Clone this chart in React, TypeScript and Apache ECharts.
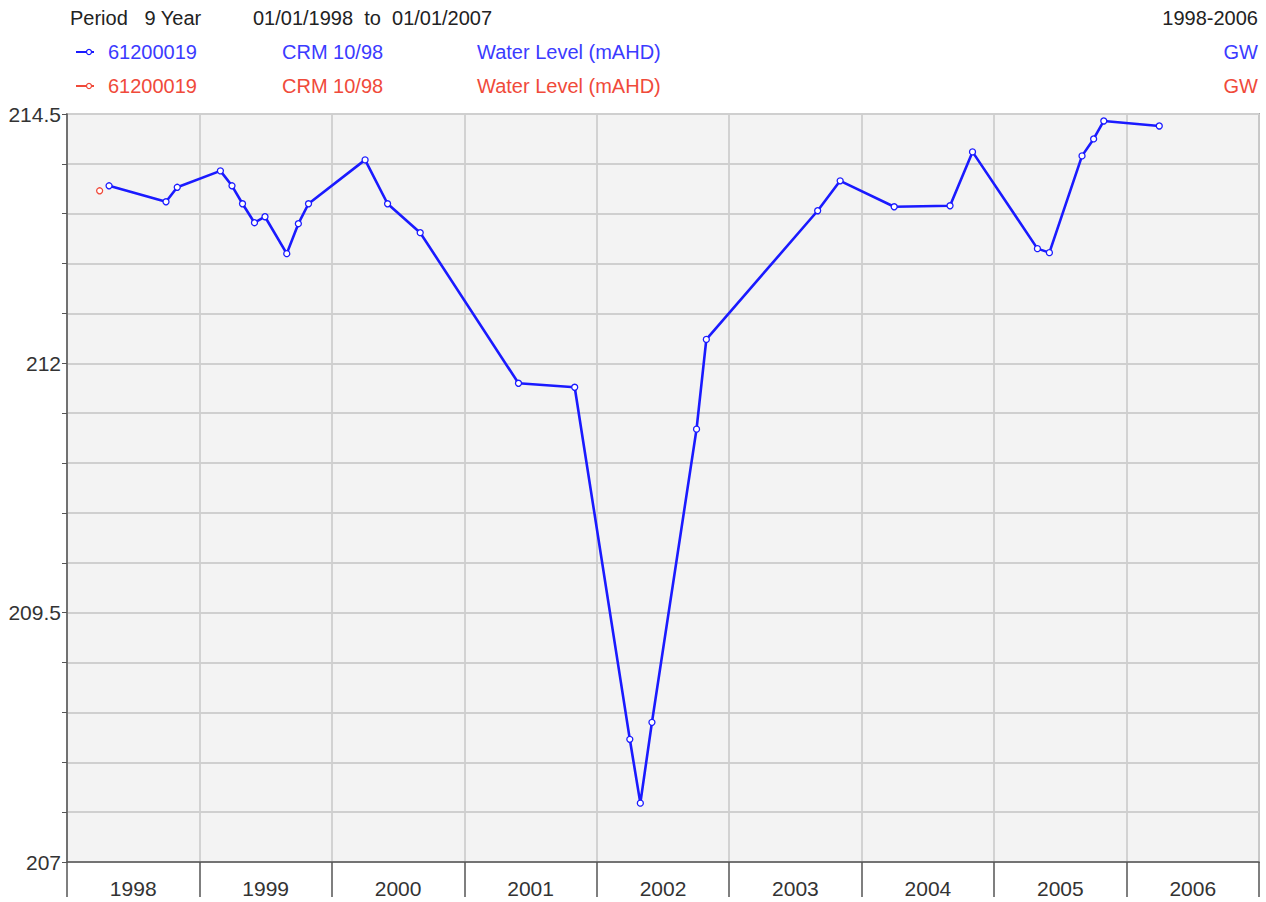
import React, { useEffect, useRef } from "react";
import * as echarts from "echarts";

const years = ["1998", "1999", "2000", "2001", "2002", "2003", "2004", "2005", "2006"];

const blueDates = [
  "1998-04-27", "1998-10-01", "1998-11-01", "1999-02-28", "1999-04-01", "1999-04-30",
  "1999-06-02", "1999-07-01", "1999-08-30", "1999-10-01", "1999-10-29", "2000-04-02",
  "2000-06-03", "2000-09-01", "2001-05-30", "2001-11-01", "2002-04-02", "2002-05-01",
  "2002-06-02", "2002-10-03", "2002-10-30", "2003-09-02", "2003-11-03", "2004-03-31",
  "2004-09-01", "2004-11-02", "2005-04-30", "2005-06-02", "2005-08-31", "2005-10-02",
  "2005-10-30", "2006-04-01",
];
const blueValues = [
  213.78, 213.62, 213.765, 213.93, 213.78, 213.6,
  213.41, 213.47, 213.1, 213.4, 213.6, 214.04,
  213.6, 213.31, 211.8, 211.76, 208.23, 207.59,
  208.4, 211.34, 212.24, 213.53, 213.83, 213.57,
  213.58, 214.12, 213.15, 213.11, 214.08, 214.25,
  214.43, 214.38,
];
const redDates = ["1998-04-01"];
const redValues = [213.73];

const yMin = 207;
const yMax = 214.5;
const yStep = 0.5;
const yLabelStep = 2.5;

const BLUE = "#1a1aff";
const BLUE_TEXT = "#3b3bff";
const RED = "#f04a3a";
const FONT = "Liberation Sans";

export default function App() {
  const ref = useRef<HTMLDivElement>(null);
  useEffect(() => {
    if (!ref.current) return;
    const chart = echarts.init(ref.current, null, { renderer: "svg" });
    const textStyle = (x: number, y: number, text: string, fill: string, align = "left") => ({
      type: "text",
      x,
      y,
      style: { text, fill, font: `20px "${FONT}"`, textAlign: align, textVerticalAlign: "middle" },
    });
    const legendMark = (y: number, color: string) => [
      { type: "line", shape: { x1: 76, y1: y, x2: 94, y2: y }, style: { stroke: color, lineWidth: 2 } },
      { type: "circle", shape: { cx: 89, cy: y, r: 2.5 }, style: { fill: "#fff", stroke: color, lineWidth: 1.2 } },
    ];
    chart.setOption({
      animation: false,
      backgroundColor: "#ffffff",
      textStyle: { fontFamily: FONT },
      grid: {
        left: 67,
        right: 7,
        top: 114,
        bottom: 40,
        show: true,
        backgroundColor: "#f3f3f3",
        borderColor: "#6a6a6a",
        borderWidth: 1.5,
      },
      xAxis: [
        {
          type: "time",
          min: "1998-01-01",
          max: "2007-01-01",
          show: false,
        },
        {
          type: "category",
          data: years,
          boundaryGap: true,
          position: "bottom",
          axisLine: { show: true, lineStyle: { color: "#555", width: 1.5 } },
          axisTick: { show: true, length: 35, lineStyle: { color: "#555", width: 1.5 } },
          axisLabel: { color: "#333", fontSize: 21, margin: 16, fontFamily: FONT },
          splitLine: { show: true, lineStyle: { color: "#cfcfcf", width: 1.8 } },
        },
      ],
      yAxis: {
        type: "value",
        min: yMin,
        max: yMax,
        interval: yStep,
        axisLine: { show: true, lineStyle: { color: "#555", width: 1.5 } },
        axisTick: { show: true, length: 5, lineStyle: { color: "#555" } },
        axisLabel: {
          color: "#333",
          fontSize: 21,
          margin: 6,
          fontFamily: FONT,
          formatter: (v: number) => {
            const k = (v - yMin) / yLabelStep;
            return Math.abs(k - Math.round(k)) < 1e-6 ? String(v) : "";
          },
        },
        splitLine: { show: true, lineStyle: { color: "#cfcfcf", width: 1.8 } },
      },
      series: [
        {
          type: "line",
          xAxisIndex: 0,
          data: blueDates.map((d, i) => [d, blueValues[i]]),
          symbol: "circle",
          symbolSize: 6,
          itemStyle: { color: "#ffffff", borderColor: BLUE, borderWidth: 1.3 },
          lineStyle: { color: BLUE, width: 2.6 },
          z: 5,
        },
        {
          type: "line",
          xAxisIndex: 0,
          data: redDates.map((d, i) => [d, redValues[i]]),
          symbol: "circle",
          symbolSize: 6,
          itemStyle: { color: "#ffffff", borderColor: RED, borderWidth: 1.3 },
          lineStyle: { color: RED, width: 2 },
          z: 5,
        },
      ],
      graphic: [
        textStyle(70, 18, "Period   9 Year", "#222"),
        textStyle(253, 18, "01/01/1998  to  01/01/2007", "#222"),
        textStyle(1258, 18, "1998-2006", "#222", "right"),
        ...legendMark(52, BLUE),
        textStyle(108, 52, "61200019", BLUE_TEXT),
        textStyle(282, 52, "CRM 10/98", BLUE_TEXT),
        textStyle(477, 52, "Water Level (mAHD)", BLUE_TEXT),
        textStyle(1258, 52, "GW", BLUE_TEXT, "right"),
        ...legendMark(86, RED),
        textStyle(108, 86, "61200019", RED),
        textStyle(282, 86, "CRM 10/98", RED),
        textStyle(477, 86, "Water Level (mAHD)", RED),
        textStyle(1258, 86, "GW", RED, "right"),
      ],
    });
    return () => chart.dispose();
  }, []);
  return (
    <div
      ref={ref}
      style={{ position: "fixed", left: 0, top: 0, width: 1266, height: 902, background: "#fff" }}
    />
  );
}
